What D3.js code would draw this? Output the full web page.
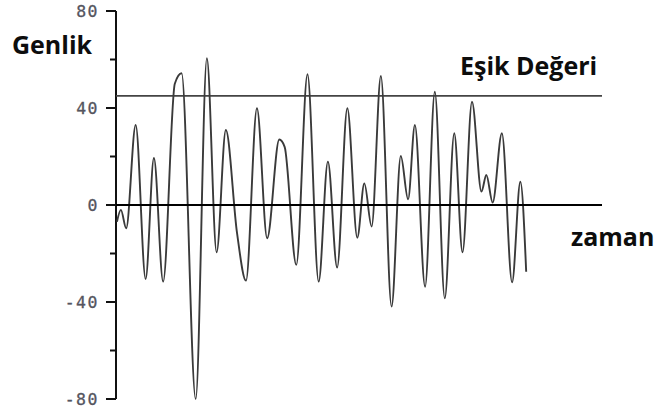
<!DOCTYPE html>
<html>
<head>
<meta charset="utf-8">
<script src="https://cdn.jsdelivr.net/npm/d3@7"></script>
<style>
  html, body { margin: 0; padding: 0; background: #fff; }
  svg { display: block; }
</style>
</head>
<body>
<svg id="chart" width="657" height="411"></svg>
<script>
// Signal turning points: time (arbitrary units) and amplitude
const times = [0.2, 1.0, 2.1, 4.05, 6.1, 7.8, 9.7, 12.1, 13.5, 16.4,
  18.7, 20.7, 22.6, 24.9, 26.75, 29.0, 31.1, 33.6, 34.7, 37.1,
  39.4, 41.7, 43.6, 45.5, 47.6, 49.65, 51.1, 52.6, 54.5, 56.7,
  58.6, 60.1, 61.5, 63.6, 65.6, 67.65, 69.6, 71.3, 73.25, 75.2,
  76.2, 77.5, 79.4, 81.5, 83.2, 84.4];
const amplitude = [-6.9, -2.0, -9.6, 33.0, -30.5, 19.4, -31.6, 50.0, 54.3, -80.0,
  60.5, -19.5, 30.9, -11.5, -31.2, 39.9, -13.7, 27.0, 24.0, -24.7,
  53.9, -31.6, 17.9, -25.8, 39.9, -13.5, 8.9, -8.9, 53.2, -41.9,
  20.2, 2.3, 33.0, -33.7, 46.7, -38.5, 29.6, -19.5, 42.6, 5.5,
  12.4, 1.0, 29.6, -31.9, 9.6, -27.5];
const threshold = 45;
const yTicks = [-80, -60, -40, -20, 0, 20, 40, 60, 80];
const yLabels = [-80, -40, 0, 40, 80];
const timeExtent = [0, 100];

const svg = d3.select("#chart");

const x = d3.scaleLinear().domain(timeExtent).range([116, 602]);
const y = d3.scaleLinear().domain([-80, 80]).range([399, 11]);

// vertical amplitude axis with long labelled ticks and short intermediate ones
const axisG = svg.append("g");
axisG.append("line")
  .attr("x1", x(0)).attr("x2", x(0))
  .attr("y1", y(80)).attr("y2", y(-80))
  .attr("stroke", "#111").attr("stroke-width", 2);

axisG.selectAll("line.tick").data(yTicks).join("line")
  .attr("class", "tick")
  .attr("x1", d => x(0) - (yLabels.includes(d) ? 10 : 6))
  .attr("x2", x(0))
  .attr("y1", d => y(d)).attr("y2", d => y(d))
  .attr("stroke", "#111").attr("stroke-width", 2);

axisG.selectAll("text").data(yLabels).join("text")
  .attr("x", x(0) - 17)
  .attr("y", d => y(d))
  .attr("dy", "0.36em")
  .attr("text-anchor", "end")
  .attr("font-family", "DejaVu Sans Mono, monospace")
  .attr("font-size", 16.5)
  .attr("letter-spacing", 1.5)
  .attr("fill", "#55555f")
  .attr("stroke", "#55555f")
  .attr("stroke-width", 0.3)
  .text(d => d);

// threshold line
svg.append("line")
  .attr("x1", x(0)).attr("x2", x(100))
  .attr("y1", y(threshold)).attr("y2", y(threshold))
  .attr("stroke", "#444").attr("stroke-width", 1.6);

// signal waveform
const pts = times.map((t, i) => [t, amplitude[i]]);
const line = d3.line()
  .x(d => x(d[0]))
  .y(d => y(d[1]))
  .curve(d3.curveMonotoneX);

svg.append("path")
  .attr("d", line(pts))
  .attr("fill", "none")
  .attr("stroke", "#3a3a3a")
  .attr("stroke-width", 1.9)
  .attr("stroke-linejoin", "round");

// time axis (zero line)
svg.append("line")
  .attr("x1", x(0)).attr("x2", x(100))
  .attr("y1", y(0)).attr("y2", y(0))
  .attr("stroke", "#000").attr("stroke-width", 2.2);

// titles
const titleFont = "'Open Sans', 'Liberation Sans', sans-serif";
const titles = [
  { text: "Genlik", x: 12, y: 54 },
  { text: "Eşik Değeri", x: 460, y: 75 },
  { text: "zaman", x: 571, y: 246 }
];
svg.selectAll("text.title").data(titles).join("text")
  .attr("class", "title")
  .attr("x", d => d.x).attr("y", d => d.y)
  .attr("font-family", titleFont).attr("font-weight", 700).attr("font-size", 25)
  .attr("fill", "#0d0d0d")
  .text(d => d.text);
</script>
</body>
</html>
